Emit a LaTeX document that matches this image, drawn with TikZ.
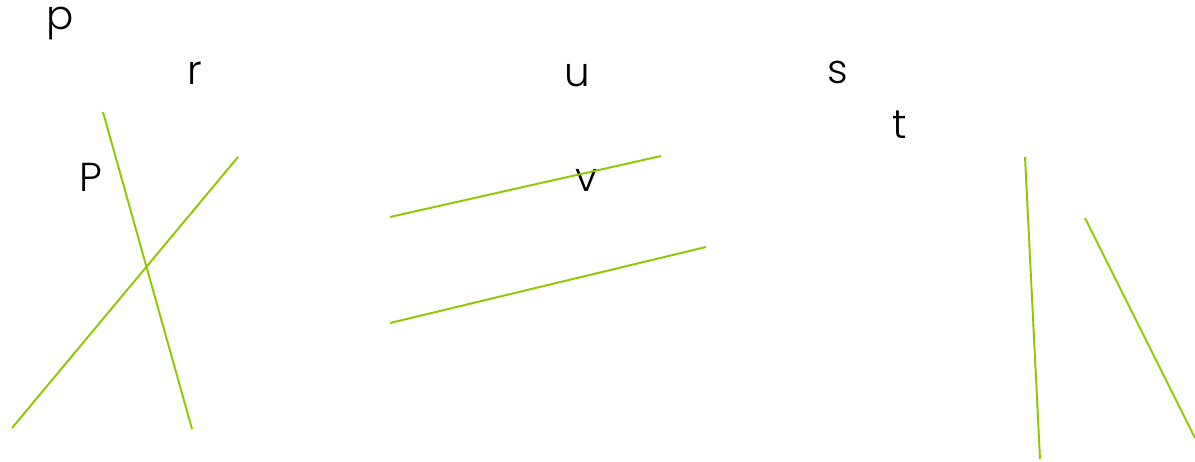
\documentclass[tikz,border=0pt]{standalone}
\usepackage{fontspec}
\setmainfont{Poppins Light}
\usepackage{xcolor}
\definecolor{linegreen}{RGB}{144, 200, 0}
\usetikzlibrary{calc,positioning}

\begin{document}
\begin{tikzpicture}[x=0.02cm, y=-0.02cm,
    seg/.style={draw=linegreen, line width=1.1pt},
    letter/.style={inner sep=0pt, font=\fontsize{23}{26}\selectfont}]
    % Frame
    \useasboundingbox (0,0) rectangle (1195,462);

    % Labels
    \node[letter] (lp) at (60,24) {p};
    \node[letter] (lr) at (195,73) {r};
    \node[letter] (lu) at (577,76) {u};
    \node[letter] (ls) at (838,72) {s};
    \node[letter] (lt) at (900,125) {t};
    \node[letter] (lP) at (91,177) {P};
    \node[letter] (lv) at (587,180) {v};

    % Line ends
    \foreach \n/\x/\y in {a1/103/112, a2/192/429, b1/238/157, b2/12/428,
                          c1/390/217, c2/661/156, d1/390/323, d2/706/247,
                          e1/1025/157, e2/1040/459, f1/1085/218, f2/1195/438} {
        \coordinate (\n) at (\x,\y);
    }

    % Segments
    \foreach \s in {a, b, c, d, e, f} {
        \draw[seg] (\s1) -- (\s2);
    }
\end{tikzpicture}
\end{document}
